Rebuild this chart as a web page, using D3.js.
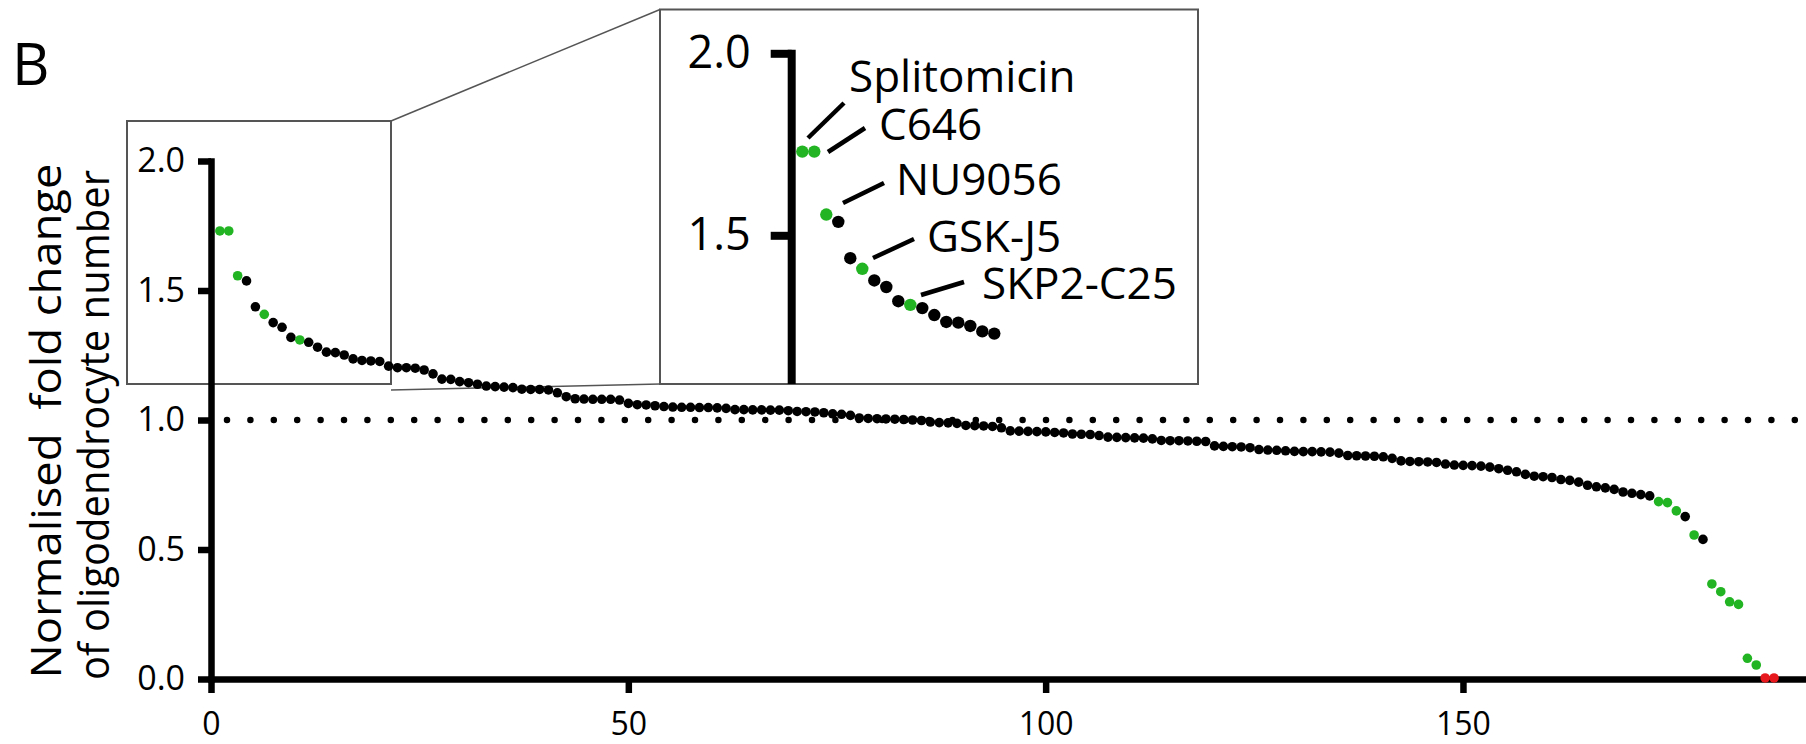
<!DOCTYPE html>
<html>
<head>
<meta charset="utf-8">
<script src="https://cdn.jsdelivr.net/npm/d3@7"></script>
<style>
  html, body { margin: 0; padding: 0; background: #fff; }
  svg { display: block; font-family: "Open Sans", sans-serif; }
</style>
</head>
<body>
<svg id="chart" width="1806" height="744"></svg>
<script>
// Normalised fold change per compound, sorted high -> low (rank 1..176)
const foldChange = [
  1.730, 1.730, 1.557, 1.537, 1.437, 1.408, 1.376, 1.358, 1.319, 1.309,
  1.300, 1.281, 1.262, 1.260, 1.251, 1.236, 1.230, 1.228, 1.226, 1.208,
  1.202, 1.202, 1.200, 1.193, 1.178, 1.158, 1.157, 1.148, 1.144, 1.138,
  1.131, 1.129, 1.127, 1.125, 1.119, 1.118, 1.118, 1.116, 1.105, 1.090,
  1.082, 1.081, 1.080, 1.080, 1.080, 1.077, 1.064, 1.059, 1.058, 1.055,
  1.052, 1.050, 1.049, 1.049, 1.048, 1.048, 1.047, 1.045, 1.040, 1.040,
  1.039, 1.039, 1.038, 1.038, 1.036, 1.033, 1.032, 1.031, 1.028, 1.024,
  1.022, 1.018, 1.008, 1.006, 1.005, 1.004, 1.003, 1.002, 1.000, 0.998,
  0.992, 0.990, 0.989, 0.987, 0.979, 0.978, 0.977, 0.975, 0.970, 0.958,
  0.957, 0.956, 0.955, 0.954, 0.952, 0.950, 0.946, 0.945, 0.944, 0.940,
  0.934, 0.933, 0.932, 0.931, 0.930, 0.927, 0.921, 0.920, 0.920, 0.919,
  0.918, 0.917, 0.900, 0.898, 0.897, 0.896, 0.893, 0.886, 0.884, 0.883,
  0.881, 0.879, 0.878, 0.878, 0.877, 0.876, 0.872, 0.863, 0.862, 0.861,
  0.860, 0.858, 0.852, 0.842, 0.840, 0.839, 0.838, 0.836, 0.830, 0.826,
  0.825, 0.824, 0.822, 0.818, 0.812, 0.806, 0.800, 0.790, 0.783, 0.781,
  0.778, 0.770, 0.767, 0.760, 0.748, 0.742, 0.738, 0.732, 0.722, 0.717,
  0.712, 0.707, 0.685, 0.681, 0.649, 0.627, 0.556, 0.539, 0.367, 0.337,
  0.298, 0.288, 0.080, 0.054, 0.004, 0.004
];
const greenRanks = [1, 2, 3, 6, 10, 163, 164, 165, 167, 169, 170, 171, 172, 173, 174];
const redRanks = [175, 176];

const yTicks = [0, 0.5, 1.0, 1.5, 2.0];
const xTicks = [0, 50, 100, 150];
const insetTicks = [1.5, 2.0];
const insetCount = 17;       // first ranks shown in the zoomed inset
const controlLevel = 1.0;    // dotted reference line

const labelNames = ["Splitomicin", "C646", "NU9056", "GSK-J5", "SKP2-C25"];

// leader line + text placement for inset labels (pixels)
const labelLayout = [
  { x1: 808, y1: 138, x2: 844, y2: 103, tx: 849, ty: 92 },
  { x1: 828, y1: 152, x2: 865, y2: 128, tx: 879, ty: 140 },
  { x1: 843, y1: 203, x2: 884, y2: 183, tx: 896, ty: 195 },
  { x1: 873, y1: 258, x2: 914, y2: 239, tx: 927, ty: 252 },
  { x1: 921, y1: 295, x2: 964, y2: 282, tx: 982, ty: 299 }
];

const GREEN = "#22b422", RED = "#e8191e", BLACK = "#000";
const points = foldChange.map((v, i) => ({ rank: i + 1, value: v }));
const colorOf = d => greenRanks.includes(d.rank) ? GREEN : redRanks.includes(d.rank) ? RED : BLACK;

const svg = d3.select("#chart");

// scales: the printed x axis and the plotted rank positions do not share
// the same spacing in the figure, so each gets its own scale
const xAxisScale = d3.scaleLinear().domain([0, 191.1]).range([211, 1806]);
const x = d3.scaleLinear().domain([0, 179.6]).range([211, 1806]);
const y = d3.scaleLinear().domain([0, 2]).range([679, 161]);
const ix = d3.scaleLinear().domain([0, insetCount]).range([790.3, 994.3]);
const iy = d3.scaleLinear().domain([1.0915, 2.0]).range([384, 53.3]);

// zoom boxes and connectors
const frame = svg.append("g").attr("fill", "none").attr("stroke", "#555").attr("stroke-width", 2);
frame.append("rect").attr("x", 127).attr("y", 121).attr("width", 264).attr("height", 263);
frame.append("rect").attr("x", 660).attr("y", 9.5).attr("width", 538).attr("height", 374.5);
frame.append("line").attr("x1", 391).attr("y1", 121).attr("x2", 660).attr("y2", 9.5).attr("stroke-width", 1.5);
frame.append("line").attr("x1", 391).attr("y1", 390).attr("x2", 660).attr("y2", 384).attr("stroke-width", 1.5);

// dotted control line
svg.append("line")
  .attr("x1", x(0) + 16).attr("x2", 1806)
  .attr("y1", y(controlLevel)).attr("y2", y(controlLevel))
  .attr("stroke", "#000").attr("stroke-width", 6.5)
  .attr("stroke-linecap", "round").attr("stroke-dasharray", "0 23.4");

// main axes
function styleAxis(g, width) {
  g.select(".domain").attr("stroke-width", width).attr("stroke-linecap", "square");
  g.selectAll(".tick line").attr("stroke-width", width);
  g.selectAll(".tick text").attr("fill", "#000");
}

svg.append("g")
  .attr("transform", `translate(${x(0)},0)`)
  .call(d3.axisLeft(y).tickValues(yTicks).tickFormat(d3.format(".1f"))
    .tickSize(13).tickSizeOuter(0).tickPadding(13))
  .call(g => g.selectAll(".tick text").attr("font-size", 34).attr("font-family", "Open Sans"))
  .call(g => styleAxis(g, 6.5));

svg.append("g")
  .attr("transform", `translate(0,${y(0)})`)
  .call(d3.axisBottom(xAxisScale).tickValues(xTicks).tickFormat(d3.format("d"))
    .tickSize(14).tickSizeOuter(0).tickPadding(19))
  .call(g => g.selectAll(".tick text").attr("font-size", 32).attr("font-family", "Open Sans"))
  .call(g => styleAxis(g, 6.5));

// main points
svg.append("g").selectAll("circle")
  .data(points)
  .join("circle")
  .attr("cx", d => x(d.rank))
  .attr("cy", d => y(d.value))
  .attr("r", 4.8)
  .attr("fill", colorOf);

// inset axis
svg.append("g")
  .attr("transform", `translate(${ix(0) + 1.4},0)`)
  .call(d3.axisLeft(iy).tickValues(insetTicks).tickFormat(d3.format(".1f"))
    .tickSize(21).tickSizeOuter(0).tickPadding(20))
  .call(g => g.selectAll(".tick text").attr("font-size", 45).attr("font-family", "Open Sans"))
  .call(g => styleAxis(g, 8))
  .call(g => g.select(".domain").attr("stroke-linecap", "butt").attr("d", `M0,${iy(2.0) - 3.5}V384`));

// inset points
svg.append("g").selectAll("circle")
  .data(points.slice(0, insetCount))
  .join("circle")
  .attr("cx", d => ix(d.rank))
  .attr("cy", d => iy(d.value))
  .attr("r", 6.2)
  .attr("fill", colorOf);

// inset labels with leader lines
const labels = svg.append("g");
labelNames.forEach((name, i) => {
  const L = labelLayout[i];
  labels.append("line")
    .attr("x1", L.x1).attr("y1", L.y1).attr("x2", L.x2).attr("y2", L.y2)
    .attr("stroke", "#000").attr("stroke-width", 4.5);
  labels.append("text")
    .attr("x", L.tx).attr("y", L.ty)
    .attr("font-size", 44).attr("fill", "#000")
    .text(name);
});

// y-axis title (two lines)
svg.append("text")
  .attr("transform", "translate(61,421) rotate(-90)")
  .attr("text-anchor", "middle")
  .attr("font-size", 42).attr("fill", "#000")
  .attr("textLength", 515).attr("lengthAdjust", "spacingAndGlyphs")
  .attr("xml:space", "preserve")
  .text("Normalised  fold change");
svg.append("text")
  .attr("transform", "translate(109,425) rotate(-90)")
  .attr("text-anchor", "middle")
  .attr("font-size", 42).attr("fill", "#000")
  .attr("textLength", 510).attr("lengthAdjust", "spacingAndGlyphs")
  .text("of oligodendrocyte number");

// panel letter
svg.append("text")
  .attr("x", 12).attr("y", 85)
  .attr("font-size", 58).attr("fill", "#000")
  .text("B");
</script>
</body>
</html>
